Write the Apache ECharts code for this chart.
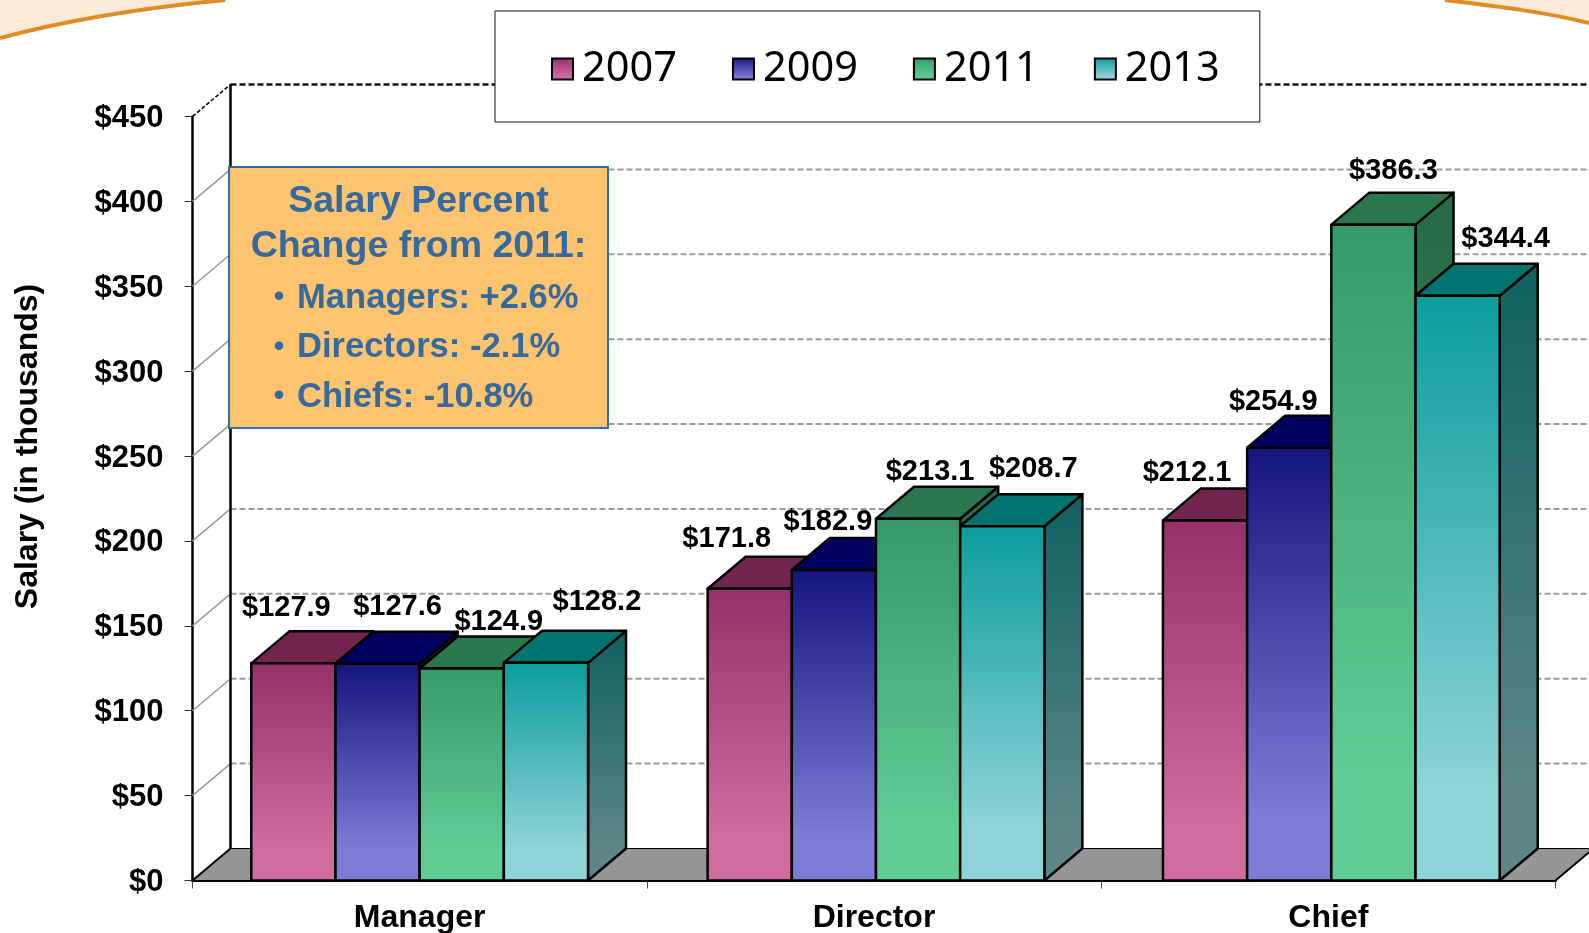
<!DOCTYPE html>
<html><head><meta charset="utf-8">
<style>html,body{margin:0;padding:0;background:#fff}#c{width:1589px;height:933px}</style>
<script src="https://cdn.jsdelivr.net/npm/echarts@6/dist/echarts.min.js"></script>
</head><body><div id="c"></div>
<script>
const categories = ['Manager', 'Director', 'Chief'];
const seriesNames = ['2007', '2009', '2011', '2013'];
const v2007 = [127.9, 171.8, 212.1];
const v2009 = [127.6, 182.9, 254.9];
const v2011 = [124.9, 213.1, 386.3];
const v2013 = [128.2, 208.7, 344.4];
const yTicks = [0, 50, 100, 150, 200, 250, 300, 350, 400, 450];
const noteTitle = ['Salary Percent', 'Change from 2011:'];
const noteItems = ['Managers: +2.6%', 'Directors: -2.1%', 'Chiefs: -10.8%'];

const allValues = [v2007, v2009, v2011, v2013];
const FONT = '"Liberation Sans", Arial, sans-serif';
const DEPTH_X = 38, DEPTH_Y = -32;
const faces = [
  {front: ['#96306A', '#D06CA0'], top: '#72264F', side: ['#5E1F42', '#7E4A68']},
  {front: ['#14147E', '#7C7CD6'], top: '#00005E', side: ['#0A0A55', '#50508E']},
  {front: ['#359A68', '#60CC96'], top: '#29774E', side: ['#236A46', '#4E8A6C']},
  {front: ['#0B9C9C', '#8FD4D8'], top: '#00746F', side: ['#0F6060', '#5C8688']}
];
// hand placement of each value label, relative to its bar's top centre
const labelShift = [
  [[-7, -55], [-23, -50], [-18, -47]],
  [[20, -57], [-6, -48], [-16, -46]],
  [[37, -46], [12, -47], [20, -54]],
  [[51, -61], [31, -57], [48, -57]]
];
// the cluster pitch is slightly wider than the tick spacing
const clusterNudge = [0, 2, 3];
const grad = (c) => ({type: 'linear', x: 0, y: 0, x2: 0, y2: 1,
  colorStops: [{offset: 0, color: c[0]}, {offset: 0.85, color: c[1]}, {offset: 1, color: c[1]}]});
const BLACK = {stroke: '#000', lineWidth: 2.5, lineJoin: 'round'};

function wallItem(params, api) {
  const cs = params.coordSys;
  const v = api.value(1);
  const y = api.coord([0, v])[1];
  const x0 = cs.x, x1 = cs.x + cs.width;
  const kids = [];
  if (v === 0) {
    kids.push({type: 'polygon', shape: {points: [[x0, y], [x0 + DEPTH_X, y + DEPTH_Y], [x1 + DEPTH_X, y + DEPTH_Y], [x1, y]]},
      style: {fill: '#969696', stroke: '#000', lineWidth: 1}});
    kids.push({type: 'line', shape: {x1: x0, y1: y, x2: x0 + DEPTH_X, y2: y + DEPTH_Y}, style: {stroke: '#000', lineWidth: 2}});
    kids.push({type: 'line', shape: {x1: x1, y1: y, x2: x1 + DEPTH_X, y2: y + DEPTH_Y}, style: {stroke: '#000', lineWidth: 2}});
    const top = api.coord([0, yTicks[yTicks.length - 1]])[1];
    kids.push({type: 'line', shape: {x1: x0 + DEPTH_X, y1: y + DEPTH_Y, x2: x0 + DEPTH_X, y2: top + DEPTH_Y}, style: {stroke: '#000', lineWidth: 2.5}, z2: 5});
  } else {
    const last = v === yTicks[yTicks.length - 1];
    kids.push({type: 'line', shape: {x1: x0, y1: y, x2: x0 + DEPTH_X, y2: y + DEPTH_Y},
      style: {stroke: last ? '#000' : '#999', lineWidth: 1.5, lineDash: last ? [4, 2] : null}});
    kids.push({type: 'line', shape: {x1: x0 + DEPTH_X, y1: y + DEPTH_Y, x2: x1 + DEPTH_X, y2: y + DEPTH_Y},
      style: {stroke: last ? '#111' : '#9a9a9a', lineWidth: last ? 2.5 : 2, lineDash: [6, 3]}});
  }
  return {type: 'group', children: kids};
}

function barItem(seriesIdx) {
  return function (params, api) {
    const cat = api.value(0), val = api.value(1);
    const base = api.coord([cat, 0]);
    const top = api.coord([cat, val]);
    const band = api.size([1, 0])[0];
    const w = band * 0.1853;
    const left = base[0] + clusterNudge[cat] + (seriesIdx - 2) * w;
    const right = left + w;
    const f = faces[seriesIdx];
    const shift = labelShift[seriesIdx][cat];
    return {type: 'group', children: [
      {type: 'polygon', shape: {points: [[right, top[1]], [right + DEPTH_X, top[1] + DEPTH_Y], [right + DEPTH_X, base[1] + DEPTH_Y], [right, base[1]]]},
        style: Object.assign({fill: grad(f.side)}, BLACK)},
      {type: 'polygon', shape: {points: [[left, top[1]], [left + DEPTH_X, top[1] + DEPTH_Y], [right + DEPTH_X, top[1] + DEPTH_Y], [right, top[1]]]},
        style: Object.assign({fill: f.top}, BLACK)},
      {type: 'rect', shape: {x: left, y: top[1], width: w, height: base[1] - top[1]},
        style: Object.assign({fill: grad(f.front)}, BLACK)},
      {type: 'text', z2: 100, style: {
        text: '$' + val.toFixed(1), x: left + w / 2 + shift[0], y: top[1] + shift[1],
        align: 'center', verticalAlign: 'middle', fill: '#000',
        font: 'bold 29px ' + FONT}}
    ]};
  };
}

const barSeries = seriesNames.map((name, i) => ({
  type: 'custom', name, z: 3, clip: false,
  coordinateSystem: 'cartesian2d',
  encode: {x: 0, y: 1},
  itemStyle: {color: grad(faces[i].front), borderColor: '#000', borderWidth: 2},
  data: allValues[i].map((v, c) => [c, v]),
  renderItem: barItem(i)
}));

const wallSeries = {
  type: 'custom', name: 'wall', z: 1, clip: false, silent: true,
  coordinateSystem: 'cartesian2d', encode: {x: 0, y: 1},
  data: yTicks.map(v => [0, v]), renderItem: wallItem
};

const noteGraphics = [
  {type: 'rect', z: 10, shape: {x: 229, y: 167, width: 379, height: 261},
   style: {fill: '#FDC46F', stroke: '#2472B0', lineWidth: 2}},
  ...noteTitle.map((t, i) => ({type: 'text', z: 11, style: {text: t, x: 418.5, y: 202 + i * 45,
    align: 'center', verticalAlign: 'middle', fill: '#366A9E', font: 'bold 37.5px ' + FONT}})),
  ...noteItems.map((t, i) => ({type: 'text', z: 11, style: {text: '•', x: 279, y: 298 + i * 49.5,
    align: 'center', verticalAlign: 'middle', fill: '#366A9E', font: 'bold 30px ' + FONT}})),
  ...noteItems.map((t, i) => ({type: 'text', z: 11, style: {text: t, x: 297, y: 298 + i * 49.5,
    align: 'left', verticalAlign: 'middle', fill: '#366A9E', font: 'bold 34.6px ' + FONT}}))
];
const corners = [
  {type: 'polygon', z: 0, shape: {points: [[0, 0], [225, 0], [160, 7], [90, 18], [0, 38]]}, style: {fill: '#FBEBD6'}},
  {type: 'bezierCurve', z: 1, shape: {x1: 0, y1: 38, cpx1: 60, cpy1: 22, cpx2: 130, cpy2: 9, x2: 225, y2: 0},
   style: {stroke: '#E08C24', lineWidth: 4, fill: 'none'}},
  {type: 'polygon', z: 0, shape: {points: [[1589, 0], [1445, 0], [1520, 9], [1589, 23]]}, style: {fill: '#FBEBD6'}},
  {type: 'bezierCurve', z: 1, shape: {x1: 1445, y1: 0, cpx1: 1495, cpy1: 6, cpx2: 1545, cpy2: 12, x2: 1589, y2: 23},
   style: {stroke: '#E08C24', lineWidth: 4, fill: 'none'}}
];

const chart = echarts.init(document.getElementById('c'), null, {renderer: 'canvas'});
chart.setOption({
  animation: false,
  backgroundColor: '#fff',
  textStyle: {fontFamily: FONT},
  grid: {left: 192.5, top: 116.5, width: 1363, height: 764, containLabel: false, outerBoundsMode: 'none'},
  legend: {
    data: seriesNames, left: 495, top: 11, orient: 'horizontal',
    padding: [37, 40, 32, 56], backgroundColor: '#fff', borderColor: '#111', borderWidth: 1, borderRadius: 0,
    itemWidth: 21, itemHeight: 21, itemGap: 55, icon: 'rect',
    textStyle: {fontFamily: '"Noto Sans"', fontSize: 41.5, color: '#000', padding: [0, 0, 0, 4]}
  },
  xAxis: {
    type: 'category', data: categories,
    axisLine: {show: true, lineStyle: {color: '#000', width: 3}},
    axisTick: {show: true, alignWithLabel: false, length: 8, lineStyle: {color: '#444', width: 1}},
    axisLabel: {color: '#000', fontWeight: 'bold', fontSize: 32, margin: 22, fontFamily: FONT}
  },
  yAxis: {
    type: 'value', min: 0, max: 450, interval: 50,
    name: 'Salary (in thousands)', nameLocation: 'middle', nameRotate: 90, nameGap: 148,
    nameTextStyle: {color: '#000', fontWeight: 'bold', fontSize: 32, fontFamily: FONT, padding: [0, 0, 0, 104]},
    splitLine: {show: false},
    axisLine: {show: true, lineStyle: {color: '#000', width: 2.5}},
    axisTick: {show: true, length: 8, lineStyle: {color: '#333', width: 1}},
    axisLabel: {margin: 29, color: '#000', fontWeight: 'bold', fontSize: 31, fontFamily: FONT,
      formatter: (v) => '{t|$' + v + '}',
      rich: {t: {color: '#000', fontWeight: 'bold', fontSize: 31, fontFamily: FONT, padding: [4, 0, 0, 0]}}}
  },
  graphic: [...corners, ...noteGraphics],
  series: [wallSeries, ...barSeries]
});
</script></body></html>
